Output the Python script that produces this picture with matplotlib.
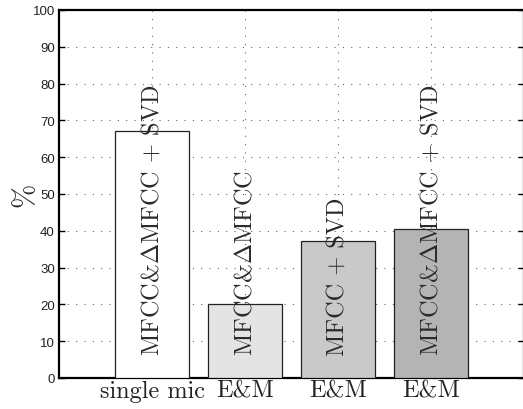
import matplotlib
matplotlib.use("Agg")
import matplotlib.pyplot as plt

categories = ["single mic", "E&M", "E&M", "E&M"]
values = [67.0, 20.2, 37.3, 40.5]
bar_labels = [r"MFCC&$\Delta$MFCC + SVD",
              r"MFCC&$\Delta$MFCC",
              r"MFCC + SVD",
              r"MFCC&$\Delta$MFCC + SVD"]
colors = ["#ffffff", "#e4e4e4", "#c9c9c9", "#b4b4b4"]
yticks = list(range(0, 101, 10))

plt.rcParams["mathtext.fontset"] = "cm"

fig = plt.figure(figsize=(5.23, 4.10), dpi=100)
ax = fig.add_axes([59/523, 1 - 379/410, 465/523, 368/410])

x = list(range(1, len(values) + 1))
ax.bar(x, values, width=0.8, color=colors, edgecolor="#222222", linewidth=0.9, zorder=3)
for xi, lab in zip(x, bar_labels):
    ax.text(xi, 6.3, lab, rotation=90, ha="center", va="bottom", fontsize=17.5,
            family="cmr10", color="#2a2a2a", zorder=4)

ax.set_xlim(0, 5)
ax.set_ylim(0, 100)
ax.set_yticks(yticks)
ax.set_yticklabels([str(t) for t in yticks], fontsize=9.5, family="Liberation Sans",
                   color="#222222")
ax.set_xticks(x)
ax.set_xticklabels(categories, fontsize=17.5, family="cmr10", color="#222222")
ax.set_ylabel("%", fontsize=21, family="cmr10", color="#222222")
ax.yaxis.set_label_coords(-0.044, 0.5)

ax.grid(True, linestyle=(0, (1, 6.5)), color="#666666", linewidth=0.8, zorder=0)
ax.set_axisbelow(True)
ax.tick_params(direction="in", length=4, width=1, right=True, top=True, pad=3)
ax.tick_params(axis="x", length=0, pad=1)
for s in ax.spines.values():
    s.set_linewidth(1.6)
    s.set_color("black")

fig.savefig("out.png", dpi=100)
